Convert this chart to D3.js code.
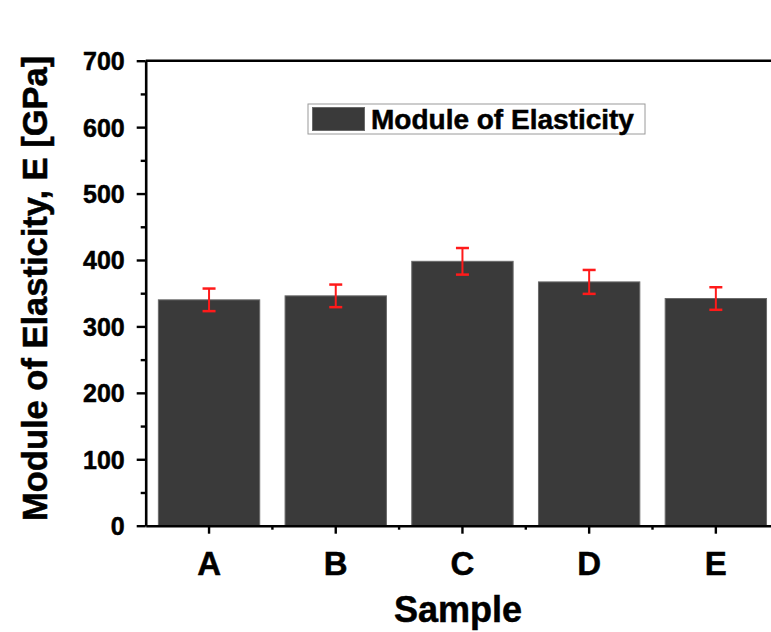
<!DOCTYPE html>
<html>
<head>
<meta charset="utf-8">
<script src="https://cdn.jsdelivr.net/npm/d3@7"></script>
<style>
  html, body { margin: 0; padding: 0; background: #fff; }
  svg { display: block; }
  text { font-family: "Liberation Sans", Arial, sans-serif; font-weight: bold; fill: #000; stroke: #000; stroke-width: 0.5px; }
</style>
</head>
<body>
<svg id="chart" width="771" height="632"></svg>
<script>
const categories = ["A", "B", "C", "D", "E"];
const modulus = [340, 346, 398, 367, 342];
const errors = [17, 17, 20, 18, 17];
const yTicks = [0, 100, 200, 300, 400, 500, 600, 700];
const yMinorTicks = [50, 150, 250, 350, 450, 550, 650];
const seriesName = "Module of Elasticity";
const xTitle = "Sample";
const yTitle = "Module of Elasticity, E [GPa]";

const svg = d3.select("#chart");
const plotL = 145.7, plotB = 525.7, plotT = 60.7, plotR = 779.2;

const x = d3.scaleBand().domain(categories).range([plotL, plotR]).paddingInner(0.2).paddingOuter(0.1);
const y = d3.scaleLinear().domain([0, 700]).range([plotB, plotT]);

// bars
svg.append("g").selectAll("rect").data(categories).join("rect")
  .attr("x", d => x(d))
  .attr("y", (d, i) => y(modulus[i]))
  .attr("width", x.bandwidth())
  .attr("height", (d, i) => y(0) - y(modulus[i]))
  .attr("fill", "#3a3a3a")
  .attr("stroke", "#6a6a6a")
  .attr("stroke-width", 1);

// error bars
const eb = svg.append("g").attr("stroke", "#ff1a1a");
categories.forEach((c, i) => {
  const cx = x(c) + x.bandwidth() / 2;
  const y1 = y(modulus[i] + errors[i]), y2 = y(modulus[i] - errors[i]);
  eb.append("line").attr("x1", cx).attr("x2", cx).attr("y1", y1).attr("y2", y2).attr("stroke-width", 2);
  eb.append("line").attr("x1", cx - 6.5).attr("x2", cx + 6.5).attr("y1", y1).attr("y2", y1).attr("stroke-width", 2.5);
  eb.append("line").attr("x1", cx - 6.5).attr("x2", cx + 6.5).attr("y1", y2).attr("y2", y2).attr("stroke-width", 2.5);
});

// y axis
const yAxis = svg.append("g").attr("transform", `translate(${plotL},0)`)
  .call(d3.axisLeft(y).tickValues(yTicks).tickSize(9).tickPadding(12).tickSizeOuter(0));
yAxis.select(".domain").attr("stroke-width", 2.6);
yAxis.selectAll(".tick line").attr("stroke-width", 2.4);
yAxis.selectAll(".tick text").attr("font-size", 25).attr("font-family", "Liberation Sans, Arial, sans-serif").attr("font-weight", "bold").attr("dy", "0.36em");
const yMinor = svg.append("g").attr("transform", `translate(${plotL},0)`)
  .call(d3.axisLeft(y).tickValues(yMinorTicks).tickSize(5).tickFormat("").tickSizeOuter(0));
yMinor.select(".domain").remove();
yMinor.selectAll(".tick line").attr("stroke-width", 2.4);

// x axis
const xAxis = svg.append("g").attr("transform", `translate(0,${plotB})`)
  .call(d3.axisBottom(x).tickSize(8).tickPadding(18).tickSizeOuter(0));
xAxis.select(".domain").attr("stroke-width", 2.6);
xAxis.selectAll(".tick line").attr("stroke-width", 2.4);
xAxis.selectAll(".tick text").attr("font-size", 33).attr("font-family", "Liberation Sans, Arial, sans-serif").attr("font-weight", "bold").attr("dy", "0.71em");
// minor x ticks at band boundaries
const boundaries = categories.slice(1).map(c => x(c) - x.step() * x.paddingInner() / 2);
svg.append("g").selectAll("line").data(boundaries).join("line")
  .attr("x1", d => d).attr("x2", d => d)
  .attr("y1", plotB).attr("y2", plotB + 4)
  .attr("stroke", "#000").attr("stroke-width", 2.4);

// top frame
svg.append("line").attr("x1", plotL).attr("x2", plotR).attr("y1", plotT).attr("y2", plotT)
  .attr("stroke", "#000").attr("stroke-width", 2.6);

// titles
svg.append("text").attr("x", 458).attr("y", 622).attr("text-anchor", "middle")
  .attr("font-size", 36).text(xTitle);
svg.append("text").attr("transform", "translate(47,521) rotate(-90)").attr("text-anchor", "start")
  .attr("font-size", 34.5).text(yTitle);

// legend
const lg = svg.append("g");
lg.append("rect").attr("x", 308).attr("y", 104).attr("width", 337).attr("height", 30)
  .attr("fill", "#fff").attr("stroke", "#9a9a9a").attr("stroke-width", 1);
lg.append("rect").attr("x", 312.5).attr("y", 107.5).attr("width", 52).attr("height", 23)
  .attr("fill", "#3a3a3a").attr("stroke", "#6a6a6a").attr("stroke-width", 1);
lg.append("text").attr("x", 371).attr("y", 129).attr("font-size", 28).text(seriesName);
</script>
</body>
</html>
